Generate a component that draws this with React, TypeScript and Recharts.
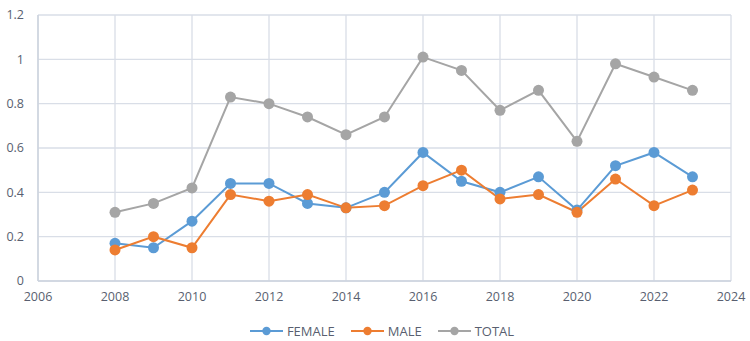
import React from "react";
import { LineChart, Line, XAxis, YAxis, CartesianGrid, Legend } from "recharts";

const years = [2008, 2009, 2010, 2011, 2012, 2013, 2014, 2015, 2016, 2017, 2018, 2019, 2020, 2021, 2022, 2023];
const female = [0.17, 0.15, 0.27, 0.44, 0.44, 0.35, 0.33, 0.40, 0.58, 0.45, 0.40, 0.47, 0.32, 0.52, 0.58, 0.47];
const male = [0.14, 0.20, 0.15, 0.39, 0.36, 0.39, 0.33, 0.34, 0.43, 0.50, 0.37, 0.39, 0.31, 0.46, 0.34, 0.41];
const total = [0.31, 0.35, 0.42, 0.83, 0.80, 0.74, 0.66, 0.74, 1.01, 0.95, 0.77, 0.86, 0.63, 0.98, 0.92, 0.86];

const xTicks = [2006, 2008, 2010, 2012, 2014, 2016, 2018, 2020, 2022, 2024];
const yTicks = [0, 0.2, 0.4, 0.6, 0.8, 1, 1.2];

const series = [
  { key: "FEMALE", values: female, color: "#5B9BD5" },
  { key: "MALE", values: male, color: "#ED7D31" },
  { key: "TOTAL", values: total, color: "#A5A5A5" },
];

const data = years.map((year, i) => ({
  year,
  FEMALE: female[i],
  MALE: male[i],
  TOTAL: total[i],
}));

const textColor = "#595F70";
const gridColor = "#D9DEE7";
const font = "'Open Sans', sans-serif";

const LegendContent = () => (
  <div style={{ display: "flex", justifyContent: "center", fontFamily: font, fontSize: 13, color: textColor }}>
    {series.map((s) => (
      <div key={s.key} style={{ display: "flex", alignItems: "center", margin: "0 8px" }}>
        <svg width={33} height={12} style={{ marginRight: 4 }}>
          <line x1={0} y1={6} x2={33} y2={6} stroke={s.color} strokeWidth={2} />
          <circle cx={16.5} cy={6} r={4.2} fill={s.color} />
        </svg>
        <span>{s.key}</span>
      </div>
    ))}
  </div>
);

export default function App() {
  return (
    <div style={{ position: "absolute", left: 0, top: 0, background: "#fff" }}>
      <LineChart width={750} height={341} data={data} margin={{ top: 15, right: 19, left: 8, bottom: 30 }}>
        <CartesianGrid stroke={gridColor} strokeWidth={1.3} />
        <XAxis
          dataKey="year"
          type="number"
          domain={[2006, 2024]}
          ticks={xTicks}
          height={30}
          tickLine={false}
          tickSize={6}
          tickMargin={5}
          stroke="#CDD3DE"
          strokeWidth={1.5}
          tick={{ fill: textColor, fontSize: 12.5, fontFamily: font }}
        />
        <YAxis
          type="number"
          domain={[0, 1.2]}
          ticks={yTicks}
          width={30}
          tickLine={false}
          tickSize={6}
          tickMargin={8}
          stroke="#CDD3DE"
          strokeWidth={1.5}
          tick={{ fill: textColor, fontSize: 12.5, fontFamily: font }}
        />
        <Legend
          layout="horizontal"
          verticalAlign="middle"
          align="center"
          content={<LegendContent />}
          wrapperStyle={{ top: 322, left: 0, width: 764 }}
        />
        {series.map((s) => (
          <Line
            key={s.key}
            dataKey={s.key}
            stroke={s.color}
            strokeWidth={2}
            dot={{ r: 5.5, fill: s.color, stroke: s.color, strokeWidth: 0 }}
            activeDot={false}
            isAnimationActive={false}
          />
        ))}
      </LineChart>
    </div>
  );
}
